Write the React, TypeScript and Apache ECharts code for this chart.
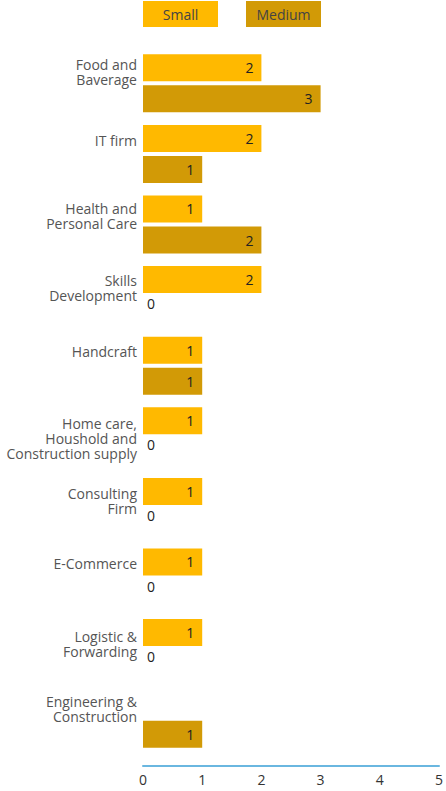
import React, { useEffect, useRef } from "react";
import * as echarts from "echarts";

const categories = [
  "Food and\nBaverage",
  "IT firm",
  "Health and\nPersonal Care",
  "Skills\nDevelopment",
  "Handcraft",
  "Home care,\nHoushold and\nConstruction supply",
  "Consulting\nFirm",
  "E-Commerce",
  "Logistic &\nForwarding",
  "Engineering &\nConstruction",
];
const smallValues: (number | null)[] = [2, 2, 1, 2, 1, 1, 1, 1, 1, null];
const mediumValues: (number | null)[] = [3, 1, 2, 0, 1, 0, 0, 0, 0, 1];
const xTicks = [0, 1, 2, 3, 4, 5];

// vertical nudge (px) of each category label relative to its band centre (layout only)
const labelNudge = [-11, -13, -9, -7, -14, 2, -6, -14, -4, -10];

const SMALL_COLOR = "#FFB900";
const MEDIUM_COLOR = "#D29A06";
const FONT = "'Open Sans', 'Noto Sans', sans-serif";

function toData(values: (number | null)[]) {
  return values.map((v) =>
    v === 0
      ? { value: 0, label: { position: "right", distance: 4, offset: [0, -7] } }
      : v
  );
}

export default function App() {
  const ref = useRef<HTMLDivElement>(null);
  useEffect(() => {
    if (!ref.current) return;
    const chart = echarts.init(ref.current, undefined, { renderer: "svg" });
    const valueLabel = {
      show: true,
      position: "insideRight",
      distance: 8,
      color: "#222",
      fontSize: 14,
      fontFamily: FONT,
    };
    const rich: Record<string, any> = {
      s: { width: 75, height: 26, lineHeight: 26, align: "center", backgroundColor: SMALL_COLOR, color: "#444", fontSize: 14, fontFamily: FONT },
      m: { width: 75, height: 26, lineHeight: 26, align: "center", backgroundColor: MEDIUM_COLOR, color: "#444", fontSize: 14, fontFamily: FONT },
    };
    const axisRich: Record<string, any> = {};
    labelNudge.forEach((n, i) => {
      axisRich["p" + i] = { fontSize: 1, lineHeight: Math.max(1, Math.abs(n) * 2) };
    });
    chart.setOption({
      animation: false,
      textStyle: { fontFamily: FONT },
      legend: {
        left: 138,
        top: 1,
        padding: 0,
        itemWidth: 0,
        itemHeight: 26,
        itemGap: 23,
        icon: "none",
        selectedMode: false,
        formatter: (name: string) => `{${name === "Small" ? "s" : "m"}|${name}}`,
        textStyle: { rich },
        data: ["Small", "Medium"],
      },
      grid: { left: 143, right: 6, top: 48, bottom: 37, containLabel: false },
      xAxis: {
        type: "value",
        min: xTicks[0],
        max: xTicks[xTicks.length - 1],
        interval: 1,
        offset: 12,
        axisLine: { show: true, lineStyle: { color: "#6AB7E0", width: 2 } },
        axisTick: { show: false },
        splitLine: { show: false },
        axisLabel: { color: "#333", fontSize: 14, margin: 6, fontFamily: FONT },
      },
      yAxis: {
        type: "category",
        inverse: true,
        data: categories,
        axisLine: { show: false },
        axisTick: { show: false },
        axisLabel: {
          color: "#555",
          fontSize: 14,
          lineHeight: 15,
          margin: 6,
          fontFamily: FONT,
          formatter: (value: string, index: number) => {
            const n = labelNudge[index] || 0;
            if (n < 0) return `${value}\n{p${index}| }`;
            if (n > 0) return `{p${index}| }\n${value}`;
            return value;
          },
          rich: axisRich,
        },
      },
      series: [
        {
          name: "Small",
          type: "bar",
          data: toData(smallValues),
          barWidth: 27,
          barGap: "15%",
          itemStyle: { color: SMALL_COLOR },
          label: valueLabel,
        },
        {
          name: "Medium",
          type: "bar",
          data: toData(mediumValues),
          barWidth: 27,
          barGap: "15%",
          itemStyle: { color: MEDIUM_COLOR },
          label: valueLabel,
        },
      ],
    });
    return () => chart.dispose();
  }, []);
  return (
    <div
      ref={ref}
      style={{ position: "absolute", left: 0, top: 0, width: 446, height: 791 }}
    />
  );
}
